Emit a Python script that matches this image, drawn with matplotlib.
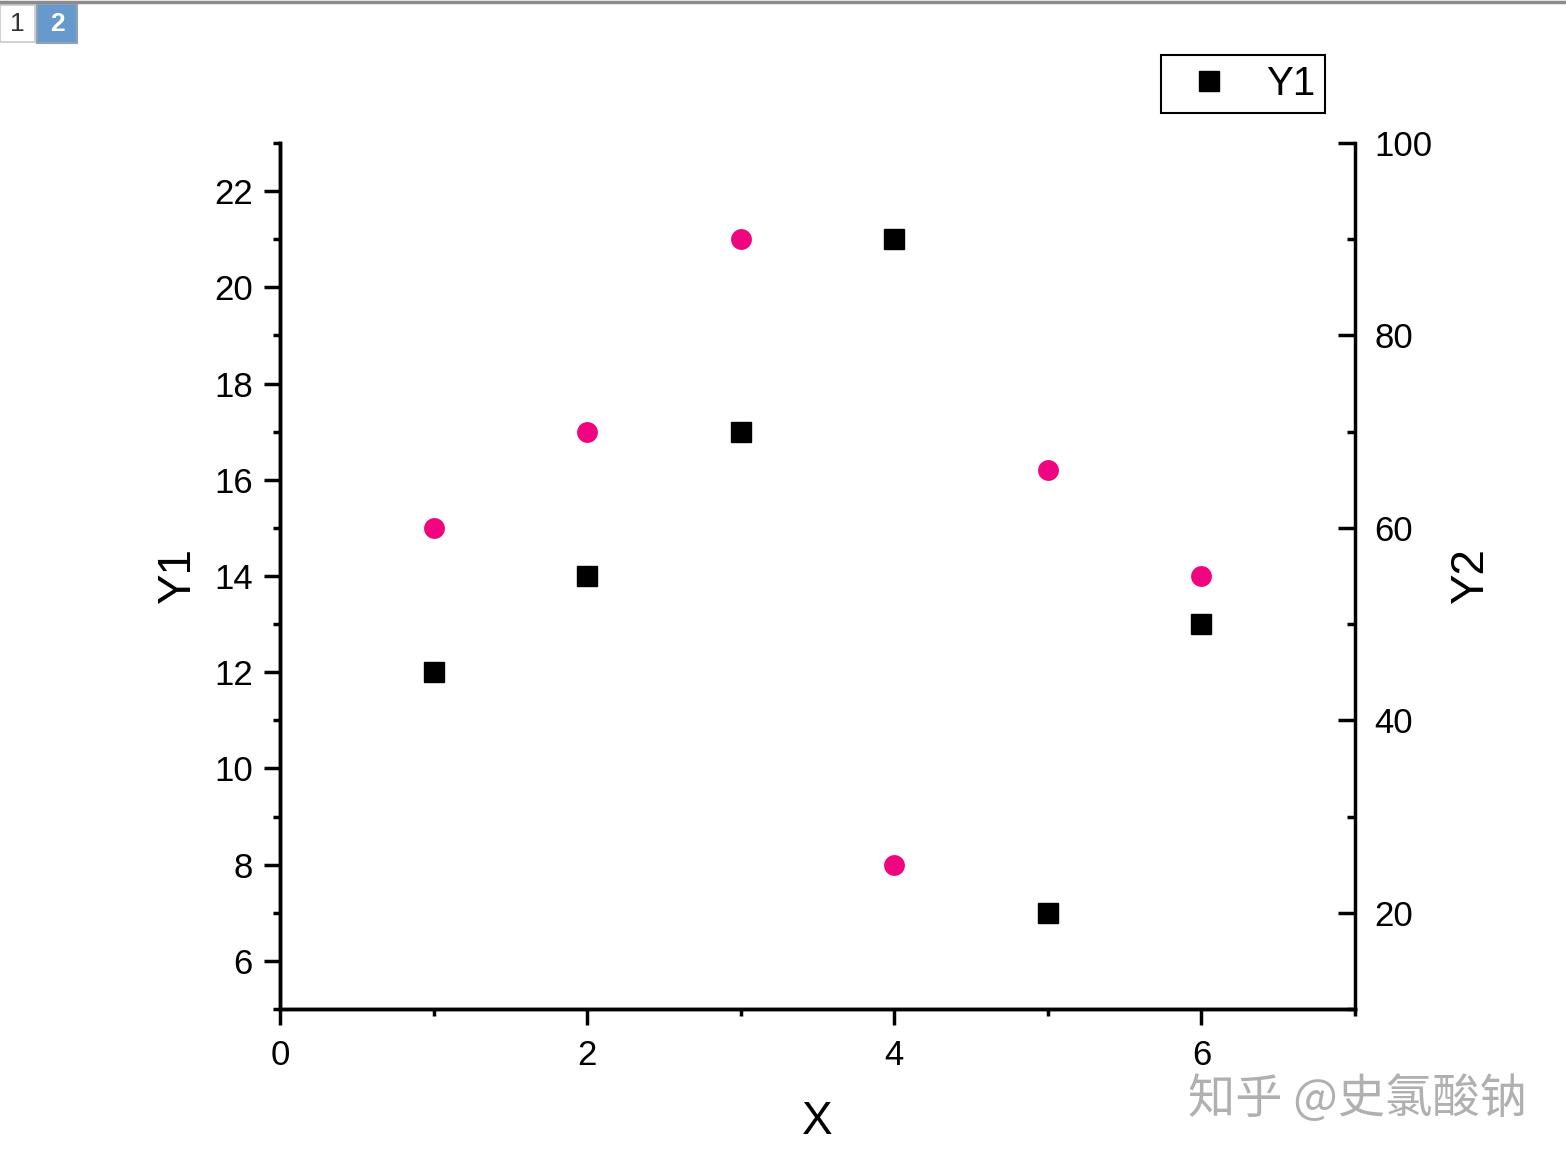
import matplotlib
matplotlib.use("Agg")
import matplotlib.pyplot as plt
from matplotlib.ticker import MultipleLocator
from matplotlib.patches import Rectangle

# data
x = [1, 2, 3, 4, 5, 6]
y1 = [12, 14, 17, 21, 7, 13]
y2 = [60, 70, 90, 25, 66, 55]

plt.rcParams['font.family'] = ['Liberation Sans', 'DejaVu Sans']

W, H = 1566, 1163
fig = plt.figure(figsize=(W / 100, H / 100), dpi=100)
ax = fig.add_axes([280 / W, 1 - 1009 / H, (1355 - 280) / W, (1009 - 143) / H])
ax2 = ax.twinx()

ax.plot(x, y1, linestyle='none', marker='s', markersize=14, color='black', label='Y1')
ax2.plot(x, y2, linestyle='none', marker='o', markersize=15, color='#F0047F',
         markeredgewidth=0, label='Y2')

ax.set_xlim(0, 7)
ax.set_ylim(5, 23)
ax2.set_ylim(10, 100)

ax.xaxis.set_major_locator(MultipleLocator(2))
ax.xaxis.set_minor_locator(MultipleLocator(1))
ax.yaxis.set_major_locator(MultipleLocator(2))
ax.yaxis.set_minor_locator(MultipleLocator(1))
ax2.yaxis.set_major_locator(MultipleLocator(20))
ax2.yaxis.set_minor_locator(MultipleLocator(10))

lw = 2.5
for a in (ax, ax2):
    for s in a.spines.values():
        s.set_linewidth(lw)
    a.spines['top'].set_visible(False)

ax.spines['right'].set_visible(False)
ax.tick_params(axis='both', which='major', direction='out', length=11.5, width=lw, labelsize=25)
ax.tick_params(axis='y', which='major', pad=8)
ax.tick_params(axis='x', which='major', pad=10)
ax.tick_params(axis='both', which='minor', direction='out', length=5, width=lw)
ax2.tick_params(axis='y', which='major', direction='in', length=12, width=lw, labelsize=25, pad=14)
ax2.tick_params(axis='y', which='minor', direction='in', length=6, width=lw)

ax.set_xlabel('X', fontsize=33, labelpad=20)
ax.set_ylabel('Y1', fontsize=33, labelpad=10)
ax2.set_ylabel('Y2', fontsize=33, labelpad=12)

leg = ax.legend(loc='upper right', bbox_to_anchor=(1325 / W, 1 - 55 / H),
                bbox_transform=fig.transFigure, borderaxespad=0, fontsize=29,
                fancybox=False, edgecolor='black', framealpha=1,
                handlelength=1.9, handletextpad=0.45, borderpad=0.25)
leg.get_frame().set_linewidth(1.5)

# top tab strip
fig.add_artist(plt.Line2D([0, 1], [1 - 1.5 / H, 1 - 1.5 / H], color='#8c8c8c', lw=2.5,
                          transform=fig.transFigure))
fig.add_artist(Rectangle((0, 1 - 42 / H), 35 / W, 37 / H, transform=fig.transFigure,
                         fc='white', ec='#c8c8c8', lw=1.2))
fig.add_artist(Rectangle((37 / W, 1 - 43 / H), 40 / W, 39 / H, transform=fig.transFigure,
                         fc='#6699cc', ec='#8ea2ba', lw=1.5))
fig.text(17 / W, 1 - 24 / H, '1', fontsize=19, color='#333333', ha='center', va='center')
fig.text(57 / W, 1 - 24 / H, '2', fontsize=19, color='white', ha='center', va='center',
         fontweight='bold')

# watermark
fig.text(1357 / W, 1 - 1100 / H, '知乎 @史氯酸钠', fontsize=34, color='#b0b0b0',
         ha='center', va='center', family=['Noto Sans CJK SC', 'DejaVu Sans'])

fig.savefig('out.png', dpi=100)
